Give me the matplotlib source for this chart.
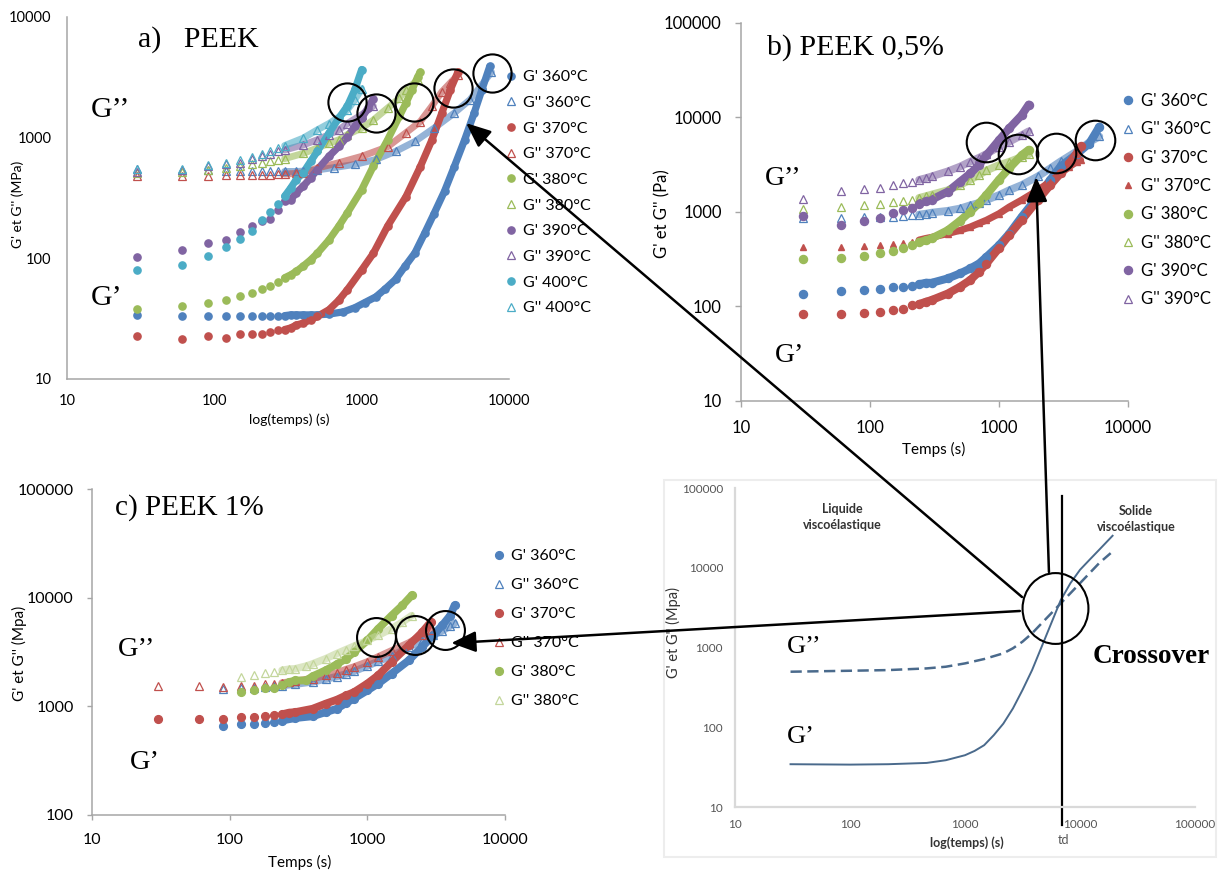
import numpy as np
import matplotlib
matplotlib.use("Agg")
import matplotlib.pyplot as plt
from matplotlib.patches import ConnectionPatch, ArrowStyle, Rectangle
from matplotlib.ticker import FixedLocator, NullLocator, FuncFormatter
from matplotlib.path import Path
from matplotlib.transforms import Affine2D

plt.rcParams['font.family'] = ['Lato', 'DejaVu Sans']

# ---------------- a) PEEK ----------------
ta_gp360 = [30, 60, 90, 120, 150, 180, 210, 240, 270, 300, 330, 360, 400, 450, 500, 600, 750, 900, 1050,
            1250, 1450, 1700, 1970, 2300, 2680, 3100, 3650, 4250, 5000, 5800, 6550, 7400]
a_gp360 = [34, 33, 33, 33, 33, 33, 33, 33, 33.5, 33.5, 34, 34, 34, 34, 34, 34.5, 36, 39, 43,
           48, 56, 67, 86, 111, 162, 235, 360, 575, 960, 1600, 2500, 3900]
ta_gpp360 = [30, 60, 90, 120, 150, 180, 210, 240, 270, 300, 360, 400, 500, 650, 900, 1250, 1700, 2300,
             3100, 4250, 5450, 6550, 7600]
a_gpp360 = [545, 540, 535, 530, 528, 525, 525, 525, 525, 525, 525, 528, 540, 565, 600, 660, 770, 930,
            1200, 1600, 2070, 2750, 3500]
ta_gp370 = [30, 60, 90, 120, 150, 180, 210, 240, 270, 300, 330, 360, 400, 450, 500, 600, 700, 800, 1000,
            1200, 1500, 2000, 2500, 3000, 3500, 4000, 4500]
a_gp370 = [22.6, 21.4, 22.6, 22, 23.5, 23.7, 23.7, 24.4, 25.7, 25.7, 26.5, 28, 29, 31, 33, 37.5, 45, 55, 80,
           110, 185, 325, 575, 960, 1600, 2500, 3500]
ta_gpp370 = [30, 60, 90, 120, 150, 180, 210, 240, 270, 300, 360, 400, 500, 700, 1000, 1500, 2000, 2500,
             3000, 3500, 4000, 4500]
a_gpp370 = [484, 484, 484, 486, 488, 490, 492, 495, 498, 500, 505, 510, 560, 620, 700, 840, 1100, 1360,
            1830, 2400, 2850, 3300]
ta_gp380 = [30, 60, 90, 120, 150, 180, 210, 240, 270, 300, 330, 360, 400, 450, 500, 600, 700, 800, 1000,
            1200, 1500, 1800, 2000, 2200, 2400, 2500]
a_gp380 = [38, 40.6, 43, 45.5, 49, 51.5, 55.7, 59, 64, 69, 73, 78, 86, 97, 110, 142, 185, 238, 370,
           580, 960, 1500, 1940, 2500, 3200, 3500]
ta_gpp380 = [30, 60, 90, 120, 150, 180, 210, 240, 270, 300, 400, 500, 600, 700, 800, 1000, 1200, 1500,
             1800, 2000, 2400]
a_gpp380 = [510, 520, 540, 560, 580, 600, 615, 635, 650, 670, 740, 820, 900, 960, 1060, 1200, 1400, 1760,
            2120, 2500, 3000]
ta_gp390 = [30, 60, 90, 120, 150, 180, 210, 240, 270, 300, 330, 360, 400, 450, 500, 600, 700, 800, 900,
            1000, 1100, 1200]
a_gp390 = [102, 118, 134, 143, 165, 187, 203, 213, 253, 297, 305, 350, 395, 463, 543, 700, 845, 1020, 1240,
           1450, 1750, 2100]
ta_gpp390 = [30, 60, 90, 120, 150, 180, 210, 240, 270, 300, 400, 500, 600, 700, 800, 1000, 1200]
a_gpp390 = [520, 540, 580, 600, 615, 660, 700, 730, 770, 790, 870, 960, 1060, 1160, 1310, 1550, 1830]
ta_gp400 = [30, 60, 90, 120, 150, 180, 210, 240, 270, 300, 330, 360, 400, 450, 500, 600, 700, 800, 900, 1000]
a_gp400 = [79.5, 88.6, 105, 124, 145, 170, 207, 240, 283, 327, 383, 450, 510, 635, 770, 1090, 1450, 1830,
           2510, 3670]
ta_gpp400 = [30, 60, 90, 120, 150, 180, 210, 240, 270, 300, 400, 500, 600, 700, 800, 900, 1000]
a_gpp400 = [549, 555, 590, 615, 650, 690, 735, 780, 820, 860, 990, 1160, 1310, 1480, 1700, 2060, 2550]
cross_t_a = [7650, 4200, 2270, 1250, 795]
cross_g_a = [3430, 2570, 1990, 1600, 1990]

# ---------------- b) PEEK 0,5% ----------------
tb_360 = [30, 60, 90, 120, 150, 180, 210, 240, 270, 300, 400, 500, 600, 700, 800, 1000, 1200, 1500,
          2000, 2500, 3000, 4000, 5000, 6000]
b_gp360 = [137, 146, 151, 154, 159, 162, 164, 172, 178, 178, 198, 224, 253, 285, 335, 445, 590, 890,
           1460, 2200, 3040, 4100, 5300, 8000]
b_gpp360 = [857, 857, 890, 890, 890, 905, 930, 940, 960, 985, 1030, 1090, 1180, 1250, 1340, 1510, 1700, 1930,
            2380, 2900, 3430, 4380, 5460, 6300]
tb_370 = [30, 60, 90, 120, 150, 180, 210, 240, 270, 300, 400, 500, 600, 700, 800, 1000, 1200, 1500,
          2000, 2500, 3000, 3500, 4000, 4300]
b_gp370 = [83, 83, 85, 88, 91, 95, 103, 106, 112, 117, 137, 162, 191, 233, 285, 415, 570, 820,
           1340, 1930, 2560, 3280, 4190, 4940]
b_gpp370 = [430, 430, 440, 445, 455, 470, 480, 505, 525, 540, 590, 640, 695, 760, 820, 960, 1130, 1340,
            1700, 2100, 2560, 3000, 3400, 3530]
tb_380 = [30, 60, 90, 120, 150, 180, 210, 240, 270, 300, 400, 500, 600, 700, 800, 1000, 1200, 1500, 1700]
b_gp380 = [315, 326, 345, 365, 388, 418, 452, 480, 500, 525, 640, 810, 1010, 1240, 1520, 2200, 2900, 4000, 4550]
b_gpp380 = [1070, 1140, 1200, 1230, 1270, 1300, 1350, 1410, 1470, 1530, 1700, 1930, 2200, 2470, 2750, 3140,
            3400, 3830, 4070]
tb_390 = [30, 60, 90, 120, 150, 180, 210, 240, 270, 300, 400, 500, 600, 700, 800, 1000, 1200, 1500, 1700]
b_gp390 = [908, 728, 800, 868, 965, 1040, 1110, 1230, 1300, 1350, 1640, 2100, 2560, 3140, 4000, 5760,
           7680, 10600, 13700]
b_gpp390 = [1360, 1680, 1740, 1810, 1920, 2010, 2080, 2190, 2280, 2380, 2690, 3030, 3420, 3750, 4120, 4900,
            5540, 6500, 7150]
cross_t_b = [5520, 2750, 1405, 787]
cross_g_b = [5800, 4190, 4120, 5570]

# ---------------- c) PEEK 1% ----------------
tc_360 = [90, 120, 150, 180, 210, 240, 300, 400, 500, 600, 700, 800, 1000, 1200, 1500, 2000, 2500, 3000,
          3500, 4000, 4300]
c_gp360 = [659, 683, 690, 705, 725, 740, 780, 810, 885, 950, 1070, 1180, 1400, 1620, 2000, 2650, 3520, 4500,
           5560, 6850, 8500]
c_gpp360 = [1455, 1470, 1490, 1510, 1530, 1550, 1600, 1680, 1780, 1880, 1990, 2100, 2350, 2600, 2900, 3500,
            4000, 4500, 4950, 5500, 5800]
tc_370 = [30, 60, 90, 120, 150, 180, 210, 240, 270, 300, 400, 500, 600, 700, 800, 1000, 1200, 1500,
          2000, 2500, 2900]
c_gp370 = [770, 770, 770, 790, 800, 810, 830, 845, 875, 885, 950, 1060, 1150, 1260, 1350, 1620, 1930, 2560,
           3640, 4800, 6000]
c_gpp370 = [1530, 1530, 1510, 1530, 1550, 1590, 1610, 1640, 1670, 1700, 1800, 1930, 2030, 2180, 2300, 2560,
            2850, 3240, 3830, 4520, 5000]
tc_380 = [120, 150, 180, 210, 240, 270, 300, 360, 400, 500, 600, 700, 800, 1000, 1200, 1500, 1800, 2100]
c_gp380 = [1355, 1420, 1470, 1470, 1560, 1670, 1730, 1730, 1890, 2150, 2440, 2750, 3150, 4040, 5180, 6850,
           8500, 10500]
c_gpp380 = [1860, 1960, 2040, 2090, 2150, 2200, 2220, 2350, 2460, 2750, 3060, 3330, 3580, 4040, 4500, 5180,
            5970, 6850]
cross_t_c = [3660, 2230, 1150]
cross_g_c = [5080, 4500, 4350]

# ---------------- schematic ----------------
td_t_gp = [30.4, 100, 215, 464, 681, 1000, 1212, 1468, 1778, 2154, 2610, 3162, 3831, 4642, 5623, 6813,
           8254, 10000, 12115, 14678, 19200]
d_gp = [34.4, 34.0, 34.4, 35.7, 38.6, 44.6, 50.5, 59.6, 79.5, 111, 172, 293, 521, 1023, 2013, 3953,
        6400, 9420, 12600, 16790, 25200]
td_t_gpp = [30.4, 100, 215, 464, 681, 1000, 1468, 2154, 2610, 3162, 3831, 4642, 5623, 6813, 10000, 14678, 18480]
d_gpp = [497, 511, 521, 547, 574, 632, 717, 845, 977, 1183, 1506, 2013, 2685, 3590, 6400, 11430, 15240]
t_d = 6970

BLUE, RED, GREEN, PURPLE, CYAN = '#4F81BD', '#C0504D', '#9BBB59', '#8064A2', '#4BACC6'
LGREEN = '#C3D69B'
W, H = 1220, 873
SERIF = 'Liberation Serif'


def box(l, t, r, b):
    return [l / W, 1 - b / H, (r - l) / W, (b - t) / H]


def fp(x, y):
    return x / W, 1 - y / H


def series(ax, t, g, color, filled, ms, dense, label, marker=None):
    t = np.asarray(t, float)
    g = np.asarray(g, float)
    m = t >= dense
    if filled:
        ax.plot(t[m], g[m], '-', color=color, lw=ms, solid_capstyle='round', zorder=2)
        ax.plot(t, g, ls='none', marker=marker or 'o', ms=ms, color=color, mec=color, label=label, zorder=3)
    else:
        ax.plot(t[m], g[m], '-', color=color, lw=ms * 0.95, alpha=0.6, solid_capstyle='round', zorder=2)
        ax.plot(t, g, ls='none', marker='^', ms=ms, mfc='none', mec=color, mew=0.9, label=label, zorder=3)


def style(ax, xmax, ylim, fs, ticklen, pad, spine='#a6a6a6', tcolor='black', lw=1.1):
    ax.set_xscale('log')
    ax.set_yscale('log')
    ax.set_xlim(10, xmax)
    ax.set_ylim(*ylim)
    for s in ['top', 'right']:
        ax.spines[s].set_visible(False)
    for s in ['left', 'bottom']:
        ax.spines[s].set_color(spine)
        ax.spines[s].set_linewidth(lw)
    xt = [10 ** k for k in range(1, int(round(np.log10(xmax))) + 1)]
    yt = [10 ** k for k in range(int(round(np.log10(ylim[0]))), int(round(np.log10(ylim[1]))) + 1)]
    ax.xaxis.set_major_locator(FixedLocator(xt))
    ax.yaxis.set_major_locator(FixedLocator(yt))
    ax.xaxis.set_minor_locator(NullLocator())
    ax.yaxis.set_minor_locator(NullLocator())
    fmt = FuncFormatter(lambda v, p: f'{v:g}')
    ax.xaxis.set_major_formatter(fmt)
    ax.yaxis.set_major_formatter(fmt)
    ax.tick_params(which='major', length=ticklen, width=1, color=spine, pad=pad, labelsize=fs,
                   labelcolor=tcolor)
    ax.patch.set_alpha(0)


def legend(ax, x, y, fs, spacing):
    ax.legend(loc='upper left', bbox_to_anchor=fp(x, y), bbox_transform=fig.transFigure, frameon=False,
              fontsize=fs, handlelength=0.7, handletextpad=0.45, labelspacing=spacing, borderpad=0,
              borderaxespad=0)


fig = plt.figure(figsize=(12.2, 8.73), dpi=100)

# faint frame of the pasted schematic
fig.add_artist(Rectangle(fp(664, 857), 552 / W, 377 / H, transform=fig.transFigure, fill=False,
                         ec='#ededed', lw=1.5))

# ---- panel a
ax_a = fig.add_axes(box(67, 17, 509, 379))
style(ax_a, 10000, (10, 10000), 10.5, 0, 11)
ms = 5.2
series(ax_a, ta_gp360, a_gp360, BLUE, True, ms, 300, "G' 360°C")
series(ax_a, ta_gpp360, a_gpp360, BLUE, False, ms, 300, "G'' 360°C")
series(ax_a, ta_gp370, a_gp370, RED, True, ms, 300, "G' 370°C")
series(ax_a, ta_gpp370, a_gpp370, RED, False, ms, 300, "G'' 370°C")
series(ax_a, ta_gp380, a_gp380, GREEN, True, ms, 300, "G' 380°C")
series(ax_a, ta_gpp380, a_gpp380, GREEN, False, ms, 300, "G'' 380°C")
series(ax_a, ta_gp390, a_gp390, PURPLE, True, ms, 300, "G' 390°C")
series(ax_a, ta_gpp390, a_gpp390, PURPLE, False, ms, 300, "G'' 390°C")
series(ax_a, ta_gp400, a_gp400, CYAN, True, ms, 300, "G' 400°C")
series(ax_a, ta_gpp400, a_gpp400, CYAN, False, ms, 300, "G'' 400°C")
legend(ax_a, 505, 70, 11.5, 0.72)
ax_a.plot(cross_t_a, cross_g_a, ls='none', marker='o', ms=27.5, mfc='none', mec='black', mew=1.5,
          clip_on=False, zorder=6)

# ---- panel b
ax_b = fig.add_axes(box(741, 23, 1128, 401))
style(ax_b, 10000, (10, 100000), 12, 4.3, 9.5)
ms = 5.8
series(ax_b, tb_360, b_gp360, BLUE, True, ms, 240, "G' 360°C")
series(ax_b, tb_360, b_gpp360, BLUE, False, ms, 240, "G'' 360°C")
series(ax_b, tb_370, b_gp370, RED, True, ms, 240, "G' 370°C")
series(ax_b, tb_370, b_gpp370, RED, True, 5.0, 240, "G'' 370°C", marker='^')
series(ax_b, tb_380, b_gp380, GREEN, True, ms, 240, "G' 380°C")
series(ax_b, tb_380, b_gpp380, GREEN, False, ms, 240, "G'' 380°C")
series(ax_b, tb_390, b_gp390, PURPLE, True, ms, 240, "G' 390°C")
series(ax_b, tb_390, b_gpp390, PURPLE, False, ms, 240, "G'' 390°C")
legend(ax_b, 1122, 93, 12, 0.74)
ax_b.plot(cross_t_b, cross_g_b, ls='none', marker='o', ms=28.5, mfc='none', mec='black', mew=1.5,
          clip_on=False, zorder=6)

# ---- panel c
ax_c = fig.add_axes(box(92, 489, 505, 815))
style(ax_c, 10000, (100, 100000), 11.5, 3.6, 9.5)
ms = 5.6
series(ax_c, tc_360, c_gp360, BLUE, True, ms, 240, "G' 360°C")
series(ax_c, tc_360, c_gpp360, BLUE, False, ms, 240, "G'' 360°C")
series(ax_c, tc_370, c_gp370, RED, True, ms, 240, "G' 370°C")
series(ax_c, tc_370, c_gpp370, RED, False, ms, 240, "G'' 370°C")
series(ax_c, tc_380, c_gp380, GREEN, True, ms, 240, "G' 380°C")
series(ax_c, tc_380, c_gpp380, LGREEN, False, ms, 240, "G'' 380°C")
legend(ax_c, 493, 549, 11.5, 0.93)
ax_c.plot(cross_t_c, cross_g_c, ls='none', marker='o', ms=28, mfc='none', mec='black', mew=1.5,
          clip_on=False, zorder=6)

# ---- panel d (schematic)
ax_d = fig.add_axes(box(735, 488, 1195, 807))
style(ax_d, 100000, (10, 100000), 8.5, 0, 8.6, spine='#d9d9d9', tcolor='#555555', lw=1.6)
ax_d.plot(td_t_gp, d_gp, '-', color='#4a6a8c', lw=1.4)
ax_d.plot(td_t_gpp, d_gpp, '--', color='#4a6a8c', lw=1.8, dashes=(4.5, 2.2))
ax_d.plot([t_d, t_d], [79000, 5.9], color='black', lw=1.6, clip_on=False)
ell = Path.unit_circle().transformed(Affine2D().scale(0.93, 1.0))
ax_d.plot([6070], [3130], ls='none', marker=ell, ms=51, mfc='none', mec='black', mew=1.5, clip_on=False,
          zorder=6)

# arrows from the schematic crossover to each panel
arrow = ArrowStyle('-|>', head_length=0.75, head_width=0.32)
for ax_t, xy_t, xy_d in [(ax_a, (5120, 1320), (3130, 4300)),
                         (ax_b, (1940, 2340), (5370, 8850)),
                         (ax_c, (4070, 3820), (3000, 2870))]:
    con = ConnectionPatch(xyA=xy_d, coordsA=ax_d.transData, xyB=xy_t, coordsB=ax_t.transData,
                          arrowstyle=arrow, mutation_scale=20, lw=1.8, color='black',
                          shrinkA=0, shrinkB=0, zorder=10)
    fig.add_artist(con)

# ---- titles and labels (Times-like)
fig.text(*fp(138, 47), 'a)   PEEK', fontsize=21.5, family=SERIF, va='baseline')
fig.text(*fp(767, 55), 'b) PEEK 0,5%', fontsize=21.5, family=SERIF, va='baseline')
fig.text(*fp(115, 515), 'c) PEEK 1%', fontsize=21, family=SERIF, va='baseline')
for x, y, s, fs in [(91, 117, 'G’’', 21.5), (91, 305, 'G’', 21.5),
                    (765, 185, 'G’’', 20), (775, 362, 'G’', 20),
                    (118, 656, 'G’’', 20.5), (130, 769, 'G’', 20.5),
                    (787, 653, 'G’’', 19), (787, 743, 'G’', 19)]:
    fig.text(*fp(x, y), s, fontsize=fs, family=SERIF, va='baseline')
fig.text(*fp(1093, 663), 'Crossover', fontsize=19.5, family=SERIF, fontweight='bold', va='baseline')
fig.text(*fp(842, 517), 'Liquide\nviscoélastique', fontsize=9, fontweight='bold', color='#333333',
         ha='center', va='center', linespacing=1.45)
fig.text(*fp(1136, 519), 'Solide\nviscoélastique', fontsize=9, fontweight='bold', color='#333333',
         ha='center', va='center', linespacing=1.45)
fig.text(*fp(1063, 840), 'td', fontsize=9, color='#555555', ha='center', va='center')

# axis titles
fig.text(*fp(18, 204), "G' et G'' (MPa)", rotation=90, fontsize=10, ha='center', va='center')
fig.text(*fp(662, 214), "G' et G'' (Pa)", rotation=90, fontsize=12, ha='center', va='center')
fig.text(*fp(19, 653), "G' et G'' (Mpa)", rotation=90, fontsize=11, ha='center', va='center')
fig.text(*fp(673, 632), "G' et G'' (Mpa)", rotation=90, fontsize=10.5, color='#333333', ha='center',
         va='center')
fig.text(*fp(289, 420), 'log(temps) (s)', fontsize=10, ha='center', va='center')
fig.text(*fp(934, 449), 'Temps (s)', fontsize=11, ha='center', va='center')
fig.text(*fp(300, 862), 'Temps (s)', fontsize=11, ha='center', va='center')
fig.text(*fp(967, 843), 'log(temps) (s)', fontsize=9, fontweight='bold', color='#333333', ha='center',
         va='center')

fig.savefig('out.png', dpi=100)
